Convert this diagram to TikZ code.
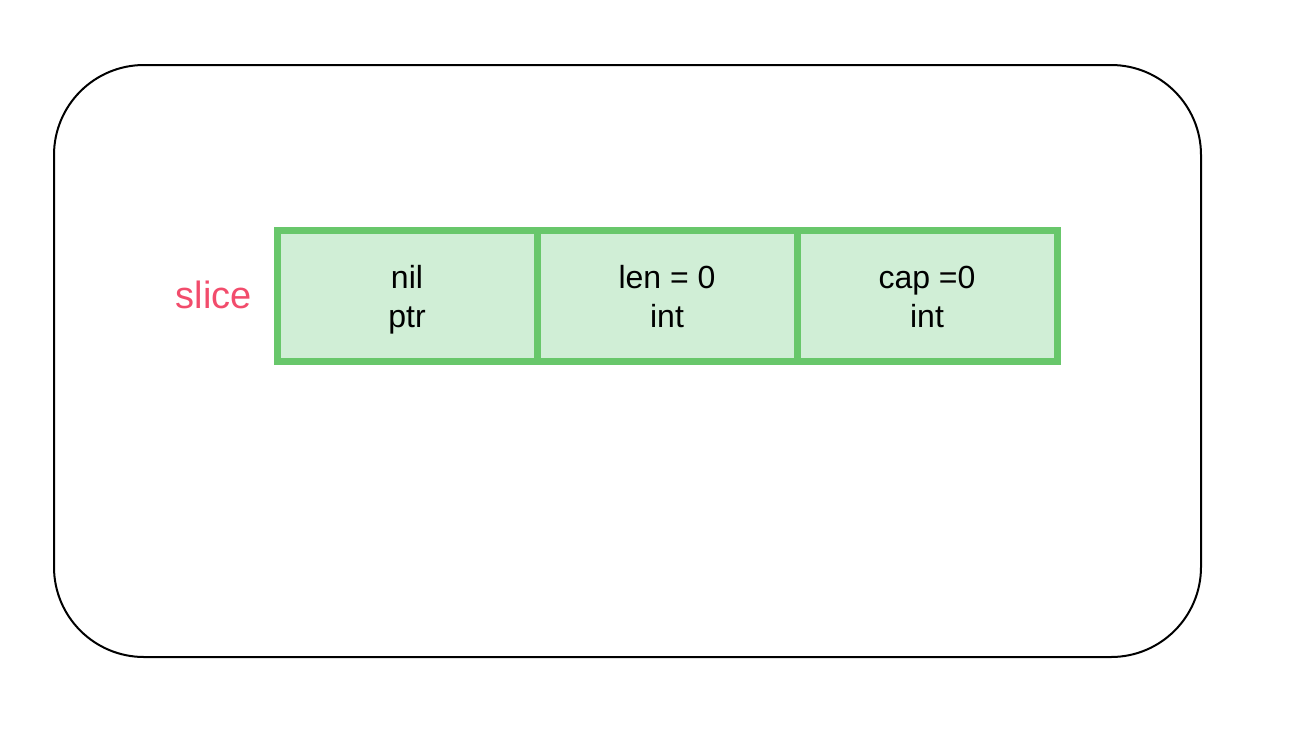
\documentclass[tikz,border=0pt]{standalone}
\usepackage{fontspec}
\setmainfont{Liberation Sans}
\definecolor{cellline}{RGB}{104,199,107}
\definecolor{cellfill}{RGB}{208,238,214}
\definecolor{slicered}{RGB}{242,76,108}
\newcommand{\celltext}[2]{\rule{0pt}{31.5pt}#1\\#2\rule[-7pt]{0pt}{7pt}}
\begin{document}
\begin{tikzpicture}[x=1pt,y=-1pt,
  frame/.style={draw=black, line width=2pt, rounded corners=90pt, minimum width=1147pt, minimum height=592pt, inner sep=0pt},
  cell/.style={draw=cellline, fill=cellfill, line width=7pt, minimum width=260pt, minimum height=131pt, inner sep=0pt, outer sep=0pt, align=center, font=\fontsize{32}{38.5}\selectfont},
  lbl/.style={text=slicered, font=\fontsize{38}{45}\selectfont, inner sep=0pt, anchor=base}]
\useasboundingbox (0,0) rectangle (1304,748);
\node[frame] (outer) at (627.5,361) {};
\node[cell] (ptr) at (407,295.5) {\celltext{nil}{ptr}};
\node[cell] (len) at (667,295.5) {\celltext{len = 0}{int}};
\node[cell] (cap) at (927,295.5) {\celltext{cap =0}{int}};
\node[lbl] (slice) at (214,308) {slice};
\end{tikzpicture}
\end{document}
